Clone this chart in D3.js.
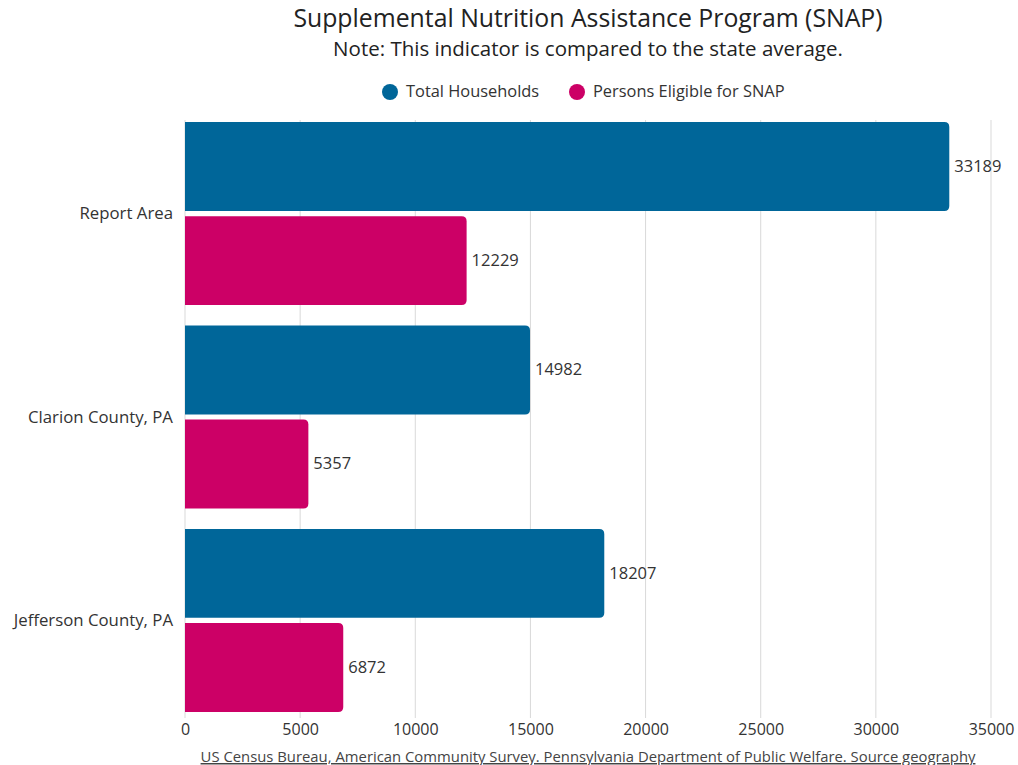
<!DOCTYPE html>
<html><head><meta charset="utf-8">
<script src="https://cdn.jsdelivr.net/npm/d3@7"></script>
<style>body{margin:0;background:#fff}svg{display:block;font-family:"Open Sans",sans-serif}</style>
</head><body><svg id="c" width="1018" height="765"></svg>
<script>
const categories = ["Report Area", "Clarion County, PA", "Jefferson County, PA"];
const seriesNames = ["Total Households", "Persons Eligible for SNAP"];
const totalHouseholds = [33189, 14982, 18207];
const personsEligible = [12229, 5357, 6872];
const xTicks = [0, 5000, 10000, 15000, 20000, 25000, 30000, 35000];
const colors = ["#006699", "#cc0066"];
const title = "Supplemental Nutrition Assistance Program (SNAP)";
const subtitle = "Note: This indicator is compared to the state average.";
const source = "US Census Bureau, American Community Survey. Pennsylvania Department of Public Welfare. Source geography";

const svg = d3.select("#c");
const m = {left: 185, right: 991, top: 120, bottom: 714};
const x = d3.scaleLinear().domain([0, 35000]).range([m.left, m.right]);
const y = d3.scaleBand().domain(categories).range([m.top, m.bottom]).paddingInner(0.1).paddingOuter(0.01);
const y1 = d3.scaleBand().domain(seriesNames).range([0, y.bandwidth()]).paddingInner(0.055);

// grid
svg.append("g").selectAll("line").data(xTicks).join("line")
  .attr("x1", d => x(d)).attr("x2", d => x(d))
  .attr("y1", m.top).attr("y2", m.bottom + 4)
  .attr("stroke", "#d9d9d9").attr("stroke-width", 1);

// axis
const ax = svg.append("g").attr("transform", `translate(0,${m.bottom})`)
  .call(d3.axisBottom(x).tickValues(xTicks).tickFormat(d3.format("d")).tickSize(0).tickPadding(10));
ax.select(".domain").remove();
ax.selectAll("text").attr("font-size", 16).attr("fill", "#333").attr("font-family", "'Open Sans', sans-serif");

// category labels
svg.append("g").selectAll("text").data(categories).join("text")
  .attr("x", m.left - 12).attr("y", d => y(d) + y.bandwidth() / 2 + 1)
  .attr("text-anchor", "end").attr("dominant-baseline", "middle")
  .attr("font-size", 16.8).attr("fill", "#333").text(d => d);

const rows = categories.map((c, i) => ({c, vals: [totalHouseholds[i], personsEligible[i]]}));
const r = 5;
function barPath(x0, x1, yt, h) {
  const rr = Math.min(r, (x1 - x0));
  return `M${x0},${yt}H${x1 - rr}Q${x1},${yt} ${x1},${yt + rr}V${yt + h - rr}Q${x1},${yt + h} ${x1 - rr},${yt + h}H${x0}Z`;
}
const g = svg.append("g");
rows.forEach(row => {
  row.vals.forEach((v, j) => {
    const yt = y(row.c) + y1(seriesNames[j]);
    const h = y1.bandwidth();
    g.append("path").attr("d", barPath(x(0), x(v), yt, h)).attr("fill", colors[j]);
    g.append("text").attr("x", x(v) + 5).attr("y", yt + h / 2 + 1)
      .attr("dominant-baseline", "middle").attr("font-size", 16.5).attr("fill", "#333").text(v);
  });
});

// titles
const cx = (m.left + m.right) / 2;
svg.append("text").attr("x", cx).attr("y", 27).attr("text-anchor", "middle")
  .attr("font-size", 24.8).attr("fill", "#222").text(title);
svg.append("text").attr("x", cx).attr("y", 56).attr("text-anchor", "middle")
  .attr("font-size", 20.5).attr("fill", "#222").text(subtitle);

// legend
const legX = [390, 577];
const leg = svg.append("g");
seriesNames.forEach((s, i) => {
  leg.append("circle").attr("cx", legX[i]).attr("cy", 92).attr("r", 8).attr("fill", colors[i]);
  leg.append("text").attr("x", legX[i] + 16).attr("y", 93).attr("dominant-baseline", "middle")
    .attr("font-size", 16.4).attr("fill", "#333").text(s);
});

// source
svg.append("text").attr("x", cx).attr("y", 762).attr("text-anchor", "middle")
  .attr("font-size", 14.85).attr("fill", "#444").attr("text-decoration", "underline").text(source);
</script></body></html>
